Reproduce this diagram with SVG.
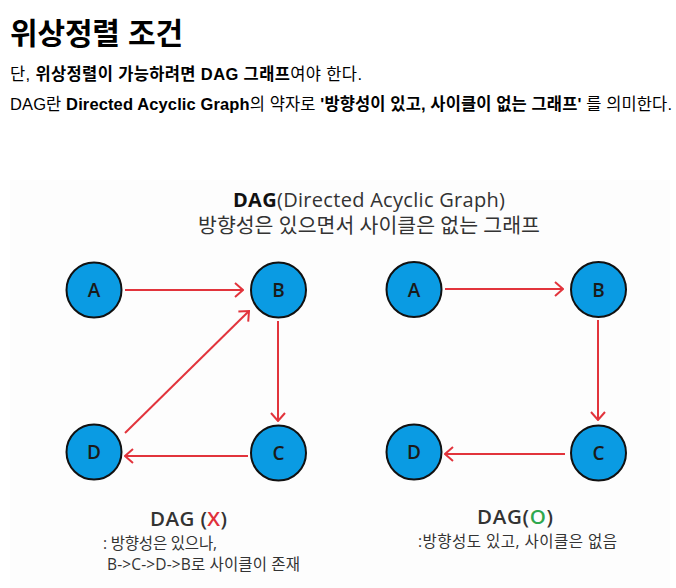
<svg xmlns="http://www.w3.org/2000/svg" width="676" height="588" viewBox="0 0 676 588">
<style>
.body{font-family:"Liberation Sans","Noto Sans CJK KR",sans-serif;font-size:16.5px;fill:#000}
.b{font-weight:bold}
.h{font-family:"Liberation Sans","Noto Sans CJK KR",sans-serif;font-size:30px;font-weight:bold;fill:#000}
.dg{font-family:"Open Sans","Noto Sans CJK KR",sans-serif;fill:#333}
.node circle{fill:#0a9be3;stroke:#111;stroke-width:2}
.node text{font-family:"Open Sans","Noto Sans CJK KR",sans-serif;font-size:19px;font-weight:600;fill:#1a1a1a;text-anchor:middle}
.edge{stroke:#e2343c;stroke-width:2;fill:none;marker-end:url(#ah)}
</style>
<defs>
<marker id="ah" viewBox="0 0 10 16" refX="9" refY="8" markerWidth="10" markerHeight="16" markerUnits="userSpaceOnUse" orient="auto">
<path d="M1,1 L9,8 L1,15" fill="none" stroke="#e2343c" stroke-width="2"/>
</marker>
</defs>
<rect width="676" height="588" fill="#fff"/>
<text class="h" x="10" y="44" textLength="173">위상정렬 조건</text>
<text class="body" x="10" y="80" textLength="352">단, <tspan class="b">위상정렬이 가능하려면 DAG 그래프</tspan>여야 한다.</text>
<text class="body" x="10" y="110" textLength="662">DAG란 <tspan class="b">Directed Acyclic Graph</tspan>의 약자로 <tspan class="b">'방향성이 있고, 사이클이 없는 그래프'</tspan> 를 의미한다.</text>
<rect x="10" y="180" width="660" height="408" fill="#fdfdfd"/>
<text class="dg" x="233" y="207" font-size="20" textLength="272"><tspan font-weight="bold" fill="#111">DAG</tspan>(Directed Acyclic Graph)</text>
<text class="dg" x="369" y="233" font-size="20.5" text-anchor="middle">방향성은 있으면서 사이클은 없는 그래프</text>
<g id="edges">
<line class="edge" x1="125" y1="290" x2="243" y2="290"/>
<line class="edge" x1="278" y1="321" x2="278" y2="421"/>
<line class="edge" x1="248" y1="456" x2="125" y2="456"/>
<line class="edge" x1="125" y1="433" x2="249" y2="311"/>
<line class="edge" x1="445" y1="289" x2="563" y2="289"/>
<line class="edge" x1="598" y1="320" x2="598" y2="420"/>
<line class="edge" x1="565" y1="454" x2="445" y2="454"/>
</g>
<g id="L-A" class="node"><circle cx="94" cy="290" r="27.5"/><text x="94" y="297">A</text></g>
<g id="L-B" class="node"><circle cx="278.5" cy="290" r="27.5"/><text x="278.5" y="297">B</text></g>
<g id="L-C" class="node"><circle cx="278.5" cy="453" r="27.5"/><text x="278.5" y="460">C</text></g>
<g id="L-D" class="node"><circle cx="94" cy="452" r="27.5"/><text x="94" y="459">D</text></g>
<g id="R-A" class="node"><circle cx="414" cy="289.5" r="27.5"/><text x="414" y="296.5">A</text></g>
<g id="R-B" class="node"><circle cx="598.5" cy="289.5" r="27.5"/><text x="598.5" y="296.5">B</text></g>
<g id="R-C" class="node"><circle cx="598.5" cy="453" r="27.5"/><text x="598.5" y="460">C</text></g>
<g id="R-D" class="node"><circle cx="414" cy="452" r="27.5"/><text x="414" y="459">D</text></g>
<text class="dg" x="150" y="526" font-size="20.5" font-weight="600" fill="#222" textLength="77">DAG (<tspan fill="#e0303a">X</tspan>)</text>
<text class="dg" x="103" y="549" font-size="15.5" fill="#555" textLength="114">: 방향성은 있으나,</text>
<text class="dg" x="107" y="570" font-size="15.5" fill="#555" textLength="193">B-&gt;C-&gt;D-&gt;B로 사이클이 존재</text>
<text class="dg" x="477" y="524" font-size="20.5" font-weight="600" fill="#222" textLength="76">DAG(<tspan fill="#2fa84f">O</tspan>)</text>
<text class="dg" x="418" y="547" font-size="15.5" fill="#555" textLength="199">:방향성도 있고, 사이클은 없음</text>
</svg>
